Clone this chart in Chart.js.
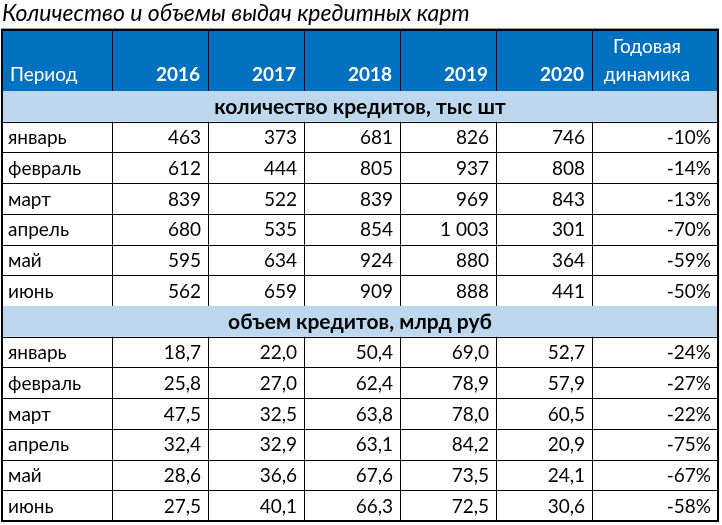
<!DOCTYPE html>
<html><head><meta charset="utf-8">
<script src="https://cdn.jsdelivr.net/npm/chart.js@4"></script>
<style>html,body{margin:0;padding:0;background:#fff}#w{width:722px;height:525px}</style>
</head><body><div id="w"><canvas id="c"></canvas></div>
<script>
const title = "Количество и объемы выдач кредитных карт";
const years = ["2016","2017","2018","2019","2020"];
const months = ["январь","февраль","март","апрель","май","июнь"];
const section1 = "количество кредитов, тыс шт";
const section2 = "объем кредитов, млрд руб";
const count2016 = [463,612,839,680,595,562];
const count2017 = [373,444,522,535,634,659];
const count2018 = [681,805,839,854,924,909];
const count2019 = [826,937,969,1003,880,888];
const count2020 = [746,808,843,301,364,441];
const countDyn = [-10,-14,-13,-70,-59,-50];
const vol2016 = [18.7,25.8,47.5,32.4,28.6,27.5];
const vol2017 = [22.0,27.0,32.5,32.9,36.6,40.1];
const vol2018 = [50.4,62.4,63.8,63.1,67.6,66.3];
const vol2019 = [69.0,78.9,78.0,84.2,73.5,72.5];
const vol2020 = [52.7,57.9,60.5,20.9,24.1,30.6];
const volDyn = [-24,-27,-22,-75,-67,-58];

const colWeights = [110,96,96,96,96,96,126];
const colEdges = colWeights.reduce((a,w)=>{a.push(a[a.length-1]+w);return a;},[0]);
const fmtInt = v => String(v).replace(/\B(?=(\d{3})+(?!\d))/g,' ');
const fmtDec = v => v.toFixed(1).replace('.',',');
const fmtPct = v => v + '%';

const rows = [];
let yCur = 0;
rows.push({type:'head', s:yCur, e:yCur+2}); yCur+=2;
rows.push({type:'sec', s:yCur, e:yCur+1, text:section1}); yCur++;
months.forEach((m,i)=>{rows.push({type:'data', s:yCur, e:yCur+1, cells:[m,fmtInt(count2016[i]),fmtInt(count2017[i]),fmtInt(count2018[i]),fmtInt(count2019[i]),fmtInt(count2020[i]),fmtPct(countDyn[i])]}); yCur++;});
rows.push({type:'sec', s:yCur, e:yCur+1, text:section2}); yCur++;
months.forEach((m,i)=>{rows.push({type:'data', s:yCur, e:yCur+1, cells:[m,fmtDec(vol2016[i]),fmtDec(vol2017[i]),fmtDec(vol2018[i]),fmtDec(vol2019[i]),fmtDec(vol2020[i]),fmtPct(volDyn[i])]}); yCur++;});
const totalRows = yCur;

const FONT = 'Lato, "Open Sans", sans-serif';
const tablePlugin = {
  id:'table',
  afterDraw(chart){
    const ctx = chart.ctx, xs = chart.scales.x, ys = chart.scales.y;
    const X = v => xs.getPixelForValue(v), Y = v => ys.getPixelForValue(v);
    const L = X(0), R = X(colEdges[colEdges.length-1]);
    ctx.save();
    ctx.textBaseline = 'middle';
    rows.forEach(r=>{
      const t = Y(r.s), b = Y(r.e);
      if (r.type==='head'){
        ctx.fillStyle='#0070C0'; ctx.fillRect(L,t,R-L,b-t);
        ctx.fillStyle='#fff';
        ctx.font = '19px '+FONT; ctx.textAlign='left';
        ctx.fillText('Период', X(colEdges[0])+8, b-16);
        ctx.font = 'bold 19px '+FONT; ctx.textAlign='right';
        years.forEach((yv,i)=>ctx.fillText(yv, X(colEdges[i+2])-8, b-16));
        ctx.font = '19px '+FONT; ctx.textAlign='center';
        const cx = (X(colEdges[6])+X(colEdges[7]))/2 - 8;
        ctx.fillText('Годовая', cx, b-44);
        ctx.fillText('динамика', cx, b-16);
        ctx.strokeStyle='#000'; ctx.lineWidth=1;
        for (let i=0;i<colEdges.length;i++){ctx.beginPath();ctx.moveTo(Math.round(X(colEdges[i]))+.5,t);ctx.lineTo(Math.round(X(colEdges[i]))+.5,b);ctx.stroke();}
      } else if (r.type==='sec'){
        ctx.fillStyle='#BDD7EE'; ctx.fillRect(L,t,R-L,b-t);
        ctx.fillStyle='#000'; ctx.font='bold 21px '+FONT; ctx.textAlign='center';
        ctx.fillText(r.text,(L+R)/2,(t+b)/2+1);
      } else {
        ctx.fillStyle='#000'; ctx.font='19px '+FONT;
        r.cells.forEach((c,i)=>{
          if(i===0){ctx.textAlign='left'; ctx.fillText(c, X(colEdges[0])+6,(t+b)/2+1);}
          else {ctx.textAlign='right'; ctx.fillText(c, X(colEdges[i+1])-7,(t+b)/2+1);}
        });
        ctx.strokeStyle='#000'; ctx.lineWidth=1;
        for (let i=0;i<colEdges.length;i++){ctx.beginPath();ctx.moveTo(Math.round(X(colEdges[i]))+.5,t);ctx.lineTo(Math.round(X(colEdges[i]))+.5,b);ctx.stroke();}
      }
      ctx.strokeStyle='#000'; ctx.lineWidth=1;
      ctx.beginPath(); ctx.moveTo(L,Math.round(b)+.5); ctx.lineTo(R,Math.round(b)+.5); ctx.stroke();
      if (r.s===0){ctx.beginPath(); ctx.moveTo(L,Math.round(t)+.5); ctx.lineTo(R,Math.round(t)+.5); ctx.stroke();}
    });
    ctx.lineWidth=2; ctx.strokeRect(L,Y(0),R-L,Y(totalRows)-Y(0));
    ctx.restore();
  }
};

const pts = [];
rows.forEach(r=>colWeights.forEach((w,i)=>pts.push({x:(colEdges[i]+colEdges[i+1])/2,y:(r.s+r.e)/2})));

new Chart(document.getElementById('c'),{
  type:'scatter',
  data:{datasets:[{data:pts,pointRadius:0,pointHoverRadius:0}]},
  options:{
    responsive:true, maintainAspectRatio:false, animation:false,
    layout:{padding:{left:2,right:4,top:0,bottom:4}},
    plugins:{
      legend:{display:false}, tooltip:{enabled:false},
      title:{display:true,text:title,align:'start',color:'#000',font:{family:'Lato, sans-serif',size:23,style:'italic',weight:'normal'},padding:{top:0,bottom:2}}
    },
    scales:{
      x:{type:'linear',display:false,min:0,max:colEdges[colEdges.length-1]},
      y:{type:'linear',display:false,min:0,max:totalRows,reverse:true}
    }
  },
  plugins:[tablePlugin]
});
</script></body></html>
